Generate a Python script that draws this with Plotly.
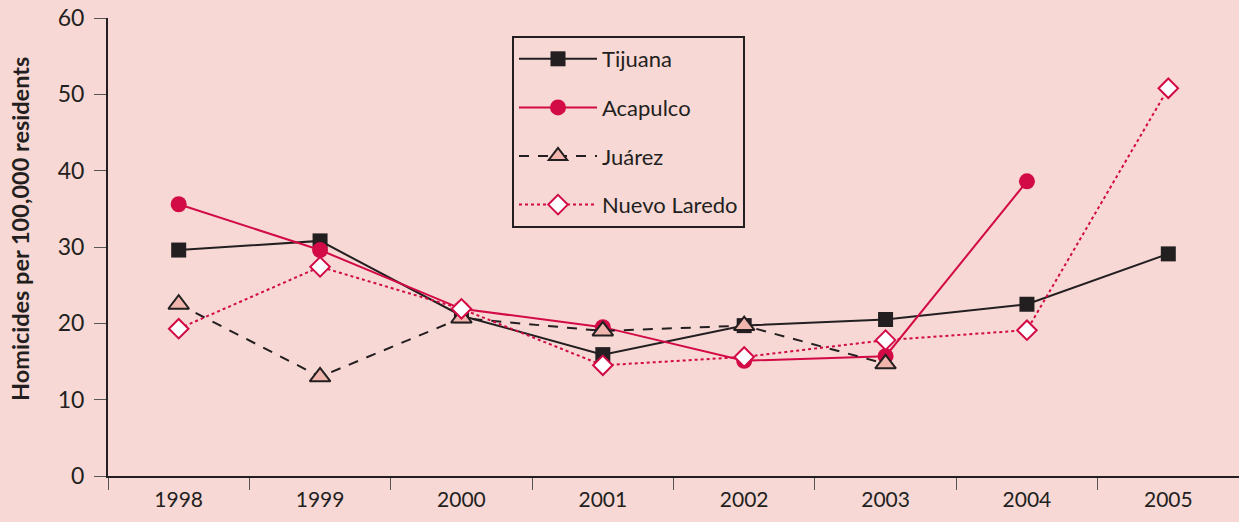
import plotly.graph_objects as go

years = ["1998", "1999", "2000", "2001", "2002", "2003", "2004", "2005"]
tijuana = [29.6, 30.8, 21.0, 15.9, 19.7, 20.5, 22.5, 29.1]
acapulco = [35.6, 29.6, 21.9, 19.5, 15.1, 15.7, 38.6, None]
juarez = [22.5, 13.0, 20.7, 19.0, 19.7, 14.7, None, None]
nuevo_laredo = [19.3, 27.4, 21.9, 14.5, 15.6, 17.8, 19.1, 50.8]
y_ticks = [0, 10, 20, 30, 40, 50, 60]

DARK = "#231f20"
RED = "#d20a45"
BG = "#f7d8d5"
FONT = "Lato, 'Open Sans', sans-serif"

fig = go.Figure()
fig.add_trace(go.Scatter(x=years, y=tijuana, name="Tijuana", mode="lines+markers",
                         legendgroup="a",
                         line=dict(color=DARK, width=2),
                         marker=dict(symbol="square", size=15, color=DARK)))
fig.add_trace(go.Scatter(x=years, y=acapulco, name="Acapulco", mode="lines+markers",
                         legendgroup="b",
                         line=dict(color=RED, width=2),
                         marker=dict(symbol="circle", size=16, color=RED)))
fig.add_trace(go.Scatter(x=years, y=juarez, name="Juárez", mode="lines+markers",
                         legendgroup="c",
                         line=dict(color=DARK, width=2, dash="10px,9px"),
                         marker=dict(symbol="triangle-up", size=18, color="#f0b6ad",
                                     line=dict(color=DARK, width=2))))
fig.add_trace(go.Scatter(x=years, y=nuevo_laredo, name="Nuevo Laredo", mode="lines+markers",
                         legendgroup="d",
                         line=dict(color=RED, width=2, dash="dot"),
                         marker=dict(symbol="diamond", size=15, color="white",
                                     line=dict(color=RED, width=2))))

fig.add_annotation(text="<b>Homicides per 100,000 residents</b>", textangle=-90,
                   xref="paper", yref="paper", x=-(108 - 20) / 1131, y=(476 - 229) / 458,
                   xanchor="center", yanchor="middle", showarrow=False,
                   font=dict(size=23.5, color=DARK, family=FONT))

fig.update_layout(
    width=1239, height=522,
    margin=dict(l=108, r=0, t=18, b=46),
    paper_bgcolor=BG, plot_bgcolor=BG,
    font=dict(family=FONT, size=21, color=DARK),
    showlegend=True,
    legend=dict(x=(512 - 108) / 1131, y=(476 - 36) / 458, xanchor="left", yanchor="top",
                bgcolor="rgba(0,0,0,0)", bordercolor=DARK, borderwidth=2,
                font=dict(size=22, color=DARK), tracegroupgap=17,
                itemwidth=78),
    xaxis=dict(type="category", range=[-0.5, 7.5], tickson="boundaries",
               ticks="outside", ticklen=12, tickwidth=1, tickcolor="#555",
               showline=True, linecolor=DARK, linewidth=2, automargin=False,
               showgrid=False, zeroline=False, tickfont=dict(size=21),
               ticklabelstandoff=4),
    yaxis=dict(range=[0, 60], tickvals=y_ticks, ticks="outside", ticklen=12,
               tickwidth=1, tickcolor="#555", showline=True, linecolor=DARK,
               linewidth=2, showgrid=False, zeroline=False, automargin=False,
               tickfont=dict(size=23), ticklabelstandoff=5),
)

fig.write_html("out.html", config={"displayModeBar": False},
               post_script="document.body.style.margin='0';"
                           "document.body.style.padding='0';"
                           "document.body.style.background='" + BG + "';")
